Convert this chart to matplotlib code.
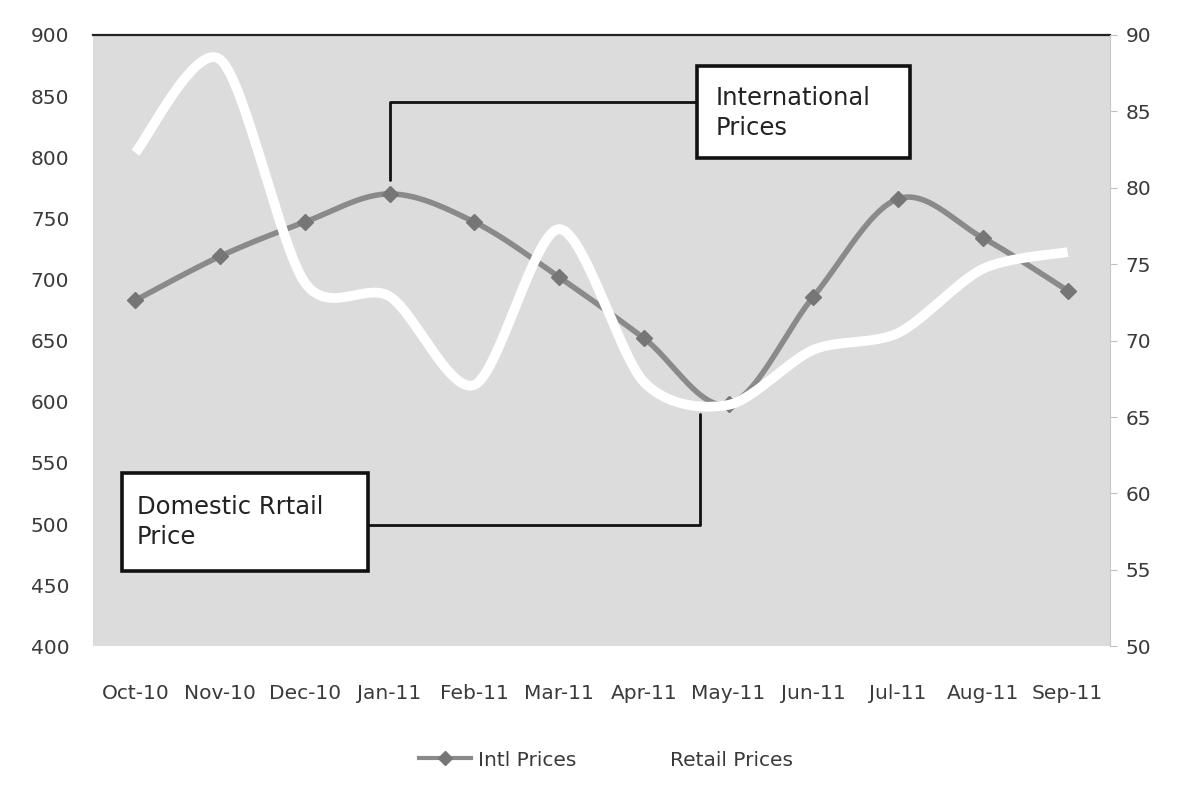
import numpy as np
import matplotlib.pyplot as plt
from matplotlib.lines import Line2D
from matplotlib.patches import Rectangle

# datos
meses = ['Oct-10', 'Nov-10', 'Dec-10', 'Jan-11', 'Feb-11', 'Mar-11',
         'Apr-11', 'May-11', 'Jun-11', 'Jul-11', 'Aug-11', 'Sep-11']
intl = [683, 719, 747, 770, 747, 702, 652, 598, 686, 766, 734, 691]
retail = [82.3, 88.4, 73.8, 72.9, 67.1, 77.3, 67.3, 65.8, 69.4, 70.5, 74.7, 75.8]

plt.rcParams['font.family'] = ['DejaVu Sans']


# curva suavizada tipo excel (bezier entre puntos)
def suavizar(y, k=1 / 7, n=30):
    x = np.arange(len(y), dtype=float)
    y = np.asarray(y, dtype=float)
    P = np.column_stack([x, y])
    Pe = np.vstack([P[0], P, P[-1]])
    out = []
    t = np.linspace(0, 1, n)[:, None]
    for i in range(len(P) - 1):
        p0, p1, p2, p3 = Pe[i], Pe[i + 1], Pe[i + 2], Pe[i + 3]
        c1 = p1 + (p2 - p0) * k
        c2 = p2 - (p3 - p1) * k
        seg = ((1 - t) ** 3) * p1 + 3 * ((1 - t) ** 2) * t * c1 + 3 * (1 - t) * t ** 2 * c2 + t ** 3 * p2
        out.append(seg if i == 0 else seg[1:])
    out = np.vstack(out)
    return out[:, 0], out[:, 1]


fig = plt.figure(figsize=(11.84, 7.95), dpi=100)
ax = fig.add_axes([0.0785, 0.187, 0.859, 0.769])
ax.set_facecolor('#dcdcdc')
ax2 = ax.twinx()

x = np.arange(len(meses))
xs, ys = suavizar(intl, k=1 / 6)
ax.plot(xs, ys, color='#8a8a8a', lw=4, solid_capstyle='round', zorder=2)
ax.plot(x, intl, ls='none', marker='D', ms=8.5, color='#767676', zorder=3)

xr, yr = suavizar(retail)
ax2.plot(xr, yr, color='white', lw=7, solid_capstyle='butt', solid_joinstyle='round')

ax.set_xlim(-0.5, 11.5)
ax.set_ylim(400, 900)
ax.set_yticks(np.arange(400, 901, 50))
ax2.set_ylim(50, 90)
ax2.set_yticks(np.arange(50, 91, 5))
ax.set_xticks(x)
ax.set_xticklabels(meses)

for a in (ax, ax2):
    for s in a.spines.values():
        s.set_visible(False)
ax.spines['top'].set_visible(True)
ax.spines['top'].set_color('#222222')
ax.spines['top'].set_linewidth(1.6)
ax2.spines['right'].set_visible(True)
ax2.spines['right'].set_color('#c8c8c8')

ax.tick_params(axis='y', length=0, pad=17, labelsize=14.5, labelcolor='#3a3a3a')
ax.tick_params(axis='x', length=0, pad=27, labelsize=14.5, labelcolor='#3a3a3a')
ax2.tick_params(axis='y', length=5, color='#c0c0c0', pad=6, labelsize=14.5, labelcolor='#3a3a3a')

# cajas de texto (coordenadas en fraccion del eje)
ax.add_patch(Rectangle((0.594, 0.799), 0.209, 0.150, transform=ax.transAxes,
                       fc='white', ec='#111111', lw=2.6, zorder=5, clip_on=False))
ax.text(0.612, 0.872, 'International\nPrices', transform=ax.transAxes,
        fontsize=17.5, color='#222222', va='center', ha='left', linespacing=1.3, zorder=6)
ax.annotate('', xy=(3, intl[3] + 11), xycoords='data',
            xytext=(0.594, 0.890), textcoords='axes fraction',
            arrowprops=dict(arrowstyle='-', color='#111111', lw=2,
                            connectionstyle='angle,angleA=0,angleB=90,rad=0',
                            shrinkA=0, shrinkB=0), zorder=4)

ax2.add_patch(Rectangle((0.0285, 0.124), 0.2415, 0.159, transform=ax2.transAxes,
                        fc='white', ec='#111111', lw=2.6, zorder=5, clip_on=False))
ax2.text(0.043, 0.203, 'Domestic Rrtail\nPrice', transform=ax2.transAxes,
         fontsize=17.5, color='#222222', va='center', ha='left', linespacing=1.3, zorder=6)
ax2.annotate('', xy=(6.66, 65.2), xycoords='data',
             xytext=(0.270, 0.198), textcoords='axes fraction',
             arrowprops=dict(arrowstyle='-', color='#111111', lw=2,
                             connectionstyle='angle,angleA=0,angleB=90,rad=0',
                             shrinkA=0, shrinkB=0), zorder=4)

# leyenda
h1 = Line2D([], [], color='#8a8a8a', lw=3, marker='D', ms=7, markerfacecolor='#767676',
            markeredgecolor='#767676')
h2 = Line2D([], [], color='white', lw=3)
fig.legend([h1, h2], ['Intl Prices', 'Retail Prices'], loc='center',
           bbox_to_anchor=(0.512, 0.044), ncol=2, frameon=False, fontsize=14.5,
           handlelength=2.6, handletextpad=0.35, columnspacing=1.7, labelcolor='#3a3a3a')

plt.savefig('out.png', dpi=100, facecolor='white')
